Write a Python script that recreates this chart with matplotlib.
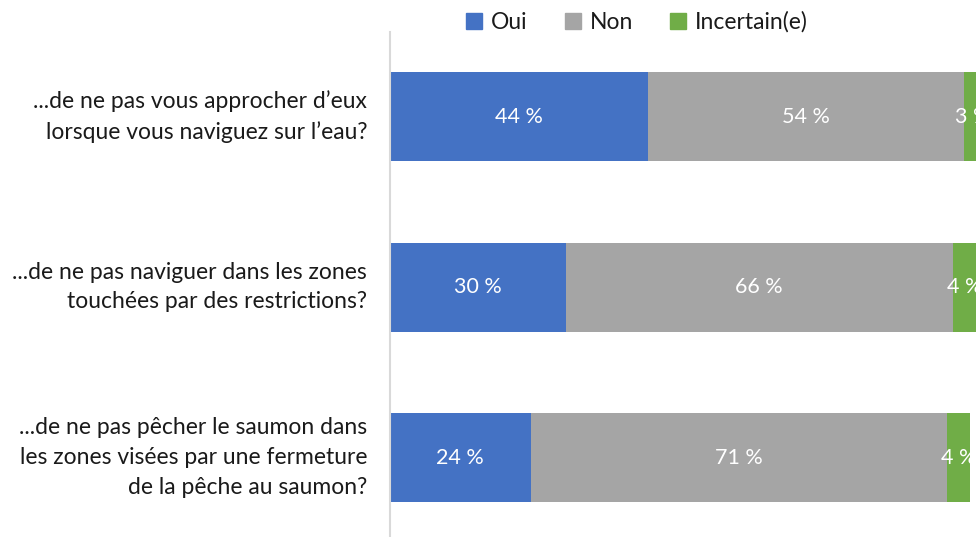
import numpy as np
import matplotlib
matplotlib.use('Agg')
import matplotlib.pyplot as plt
import matplotlib.patches as mpatches

plt.rcParams['font.family'] = ['Lato', 'DejaVu Sans']

# ── Données ─────────────────────────────────────────────────────────────────
QUESTIONS = [
    '...de ne pas vous approcher d’eux\nlorsque vous naviguez sur l’eau?',
    '...de ne pas naviguer dans les zones\ntouchées par des restrictions?',
    '...de ne pas pêcher le saumon dans\nles zones visées par une fermeture\nde la pêche au saumon?',
]
SERIES = ['Oui', 'Non', 'Incertain(e)']
OUI = [44, 30, 24]
NON = [54, 66, 71]
INCERTAIN = [3, 4, 4]
COLORS = ['#4472C4', '#A5A5A5', '#70AD47']

fig = plt.figure(figsize=(9.76, 5.37), dpi=100)
ax = fig.add_axes([390 / 976, 0, 586 / 976, 1 - 32 / 537])

y = np.arange(len(QUESTIONS))
left = np.zeros(len(QUESTIONS))
for name, vals, col in zip(SERIES, [OUI, NON, INCERTAIN], COLORS):
    vals = np.array(vals, dtype=float)
    ax.barh(y, vals, left=left, height=0.522, color=col, edgecolor='none')
    for yi, l, v in zip(y, left, vals):
        ax.text(l + v / 2, yi, f'{v:.0f} %', ha='center', va='center',
                color='white', fontsize=15.5, clip_on=True)
    left += vals

ax.set_xlim(0, 100)
ax.set_ylim(2.466, -0.496)
ax.set_xticks([])
ax.set_yticks([])
for s in ['top', 'right', 'bottom']:
    ax.spines[s].set_visible(False)
ax.spines['left'].set_color('#D9D9D9')
ax.spines['left'].set_linewidth(1.5)

# libellés à gauche
for yi, q in zip(y, QUESTIONS):
    ax.text(-23 / 5.86, yi, q, ha='right', va='center', fontsize=16.5,
            color='#1a1a1a', linespacing=1.52, clip_on=False)

handles = [mpatches.Patch(color=c, label=n) for n, c in zip(SERIES, COLORS)]
fig.legend(handles=handles, loc='center', bbox_to_anchor=(637 / 976, 1 - 22 / 537),
           ncol=3, frameon=False, fontsize=16.5, handlelength=0.7, handleheight=0.7,
           handletextpad=0.4, columnspacing=1.6, labelcolor='#1a1a1a')

fig.savefig('out.png', dpi=100)
